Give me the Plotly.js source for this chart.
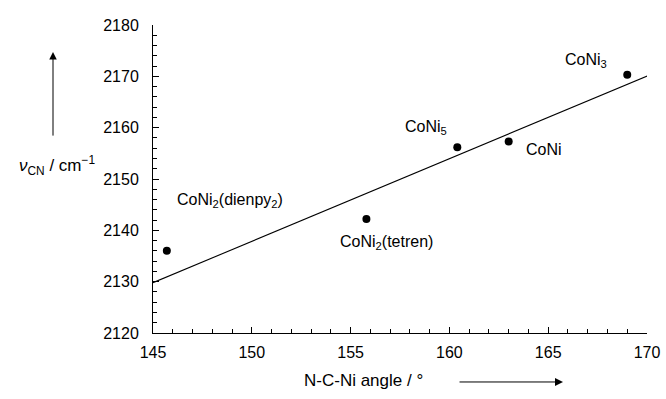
<!DOCTYPE html>
<html>
<head>
<meta charset="utf-8">
<script src="https://cdn.plot.ly/plotly-3.0.1.min.js"></script>
<style>html,body{margin:0;padding:0;background:#fff;}#chart{width:666px;height:399px;}</style>
</head>
<body>
<div id="chart"></div>
<script>
// Data
const complexes = ["CoNi<sub>2</sub>(dienpy<sub>2</sub>)", "CoNi<sub>2</sub>(tetren)", "CoNi<sub>5</sub>", "CoNi", "CoNi<sub>3</sub>"];
const angles = [145.7, 155.8, 160.4, 163.0, 169.0];
const nuCN = [2136.0, 2142.2, 2156.2, 2157.3, 2170.3];
// label anchor positions (data units)
const labelX = [148.9, 156.8, 158.8, 164.8, 166.9];
const labelY = [2145.9, 2137.7, 2160.0, 2155.8, 2173.0];
// fitted regression line end points
const fitX = [145.0, 170.4];
const fitY = [2129.8, 2170.7];
const xTicks = [145, 150, 155, 160, 165, 170];
const yTicks = [2120, 2130, 2140, 2150, 2160, 2170, 2180];

const FONT = "Liberation Sans, Arial, Helvetica, sans-serif";

const traces = [
  {x: fitX, y: fitY, mode: "lines", line: {color: "#000", width: 1.1}, hoverinfo: "skip", cliponaxis: false},
  {x: angles, y: nuCN, mode: "markers", marker: {color: "#000", size: 8}, cliponaxis: false}
];

const annotations = complexes.map((t, i) => ({
  x: labelX[i], y: labelY[i], xref: "x", yref: "y", text: t, showarrow: false,
  font: {family: FONT, size: 16, color: "#000"}, xanchor: "center", yanchor: "middle"
}));

annotations.push(
  {xref: "paper", yref: "paper", x: -0.194, y: 0.545, showarrow: false,
   text: "<i>ν</i><sub>CN</sub> / cm<sup>−1</sup>", font: {family: FONT, size: 17, color: "#000"},
   xanchor: "center", yanchor: "middle"},
  {xref: "paper", yref: "paper", x: -0.2024, y: 0.912, text: "", showarrow: true,
   ax: 0, ay: 85, arrowhead: 2, arrowsize: 1.5, arrowwidth: 1, arrowcolor: "#000"},
  {xref: "paper", yref: "paper", x: 0.426, y: -0.153, showarrow: false,
   text: "N-C-Ni angle / °", font: {family: FONT, size: 17, color: "#000"},
   xanchor: "center", yanchor: "middle"},
  {xref: "paper", yref: "paper", x: 0.830, y: -0.159, text: "", showarrow: true,
   ax: -105, ay: 0, arrowhead: 2, arrowsize: 1.6, arrowwidth: 1, arrowcolor: "#000"}
);

const layout = {
  width: 666, height: 399,
  margin: {l: 153, r: 19, t: 25, b: 66},
  paper_bgcolor: "#fff", plot_bgcolor: "#fff",
  showlegend: false,
  font: {family: FONT, size: 16, color: "#000"},
  xaxis: {
    range: [145, 170], tickvals: xTicks, ticktext: xTicks.map(String),
    showgrid: false, zeroline: false, showline: true, linecolor: "#000", linewidth: 1,
    ticks: "inside", ticklen: 6, tickcolor: "#000", tickwidth: 1,
    minor: {dtick: 1, tick0: 145, ticks: "inside", ticklen: 4, tickcolor: "#000", showgrid: false},
    tickfont: {family: FONT, size: 16, color: "#000"}, ticklabelstandoff: 5
  },
  yaxis: {
    range: [2120, 2180], tickvals: yTicks, ticktext: yTicks.map(String),
    showgrid: false, zeroline: false, showline: true, linecolor: "#000", linewidth: 1,
    ticks: "inside", ticklen: 6, tickcolor: "#000", tickwidth: 1,
    minor: {dtick: 2, tick0: 2120, ticks: "inside", ticklen: 4, tickcolor: "#000", showgrid: false},
    tickfont: {family: FONT, size: 16, color: "#000"}, ticklabelstandoff: 10
  },
  annotations: annotations
};

Plotly.newPlot("chart", traces, layout, {staticPlot: true, displayModeBar: false});
</script>
</body>
</html>
